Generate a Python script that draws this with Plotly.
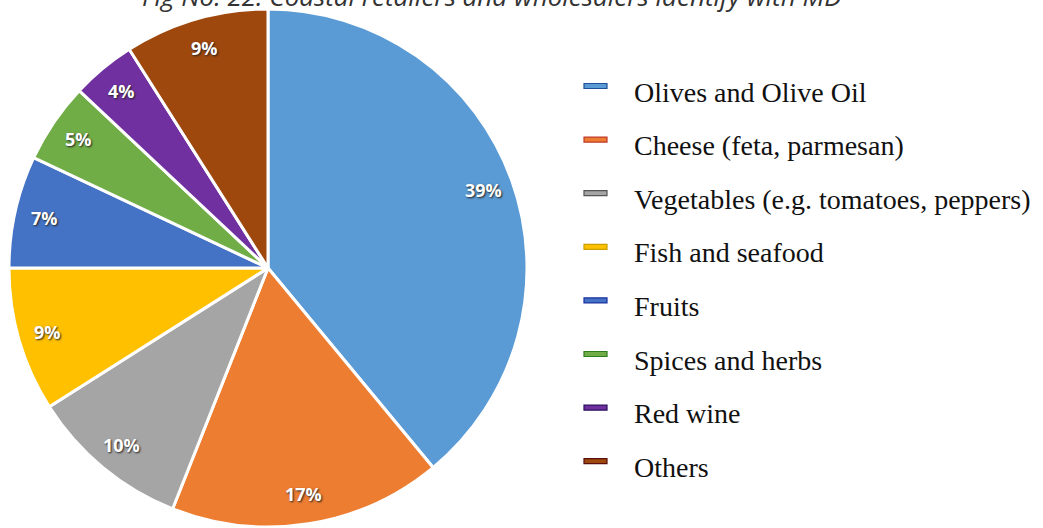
import numpy as np
import plotly.graph_objects as go

# Product categories and their shares (%)
categories = [
    "Olives and Olive Oil",
    "Cheese (feta, parmesan)",
    "Vegetables (e.g. tomatoes, peppers)",
    "Fish and seafood",
    "Fruits",
    "Spices and herbs",
    "Red wine",
    "Others",
]
shares = [39, 17, 10, 9, 7, 5, 4, 9]
colors = ["#5B9BD5", "#ED7D31", "#A5A5A5", "#FFC000",
          "#4472C4", "#70AD47", "#7030A0", "#9E480E"]
edge_colors = ["#1F4E9A", "#C0392B", "#555555", "#C9A000",
               "#1A2FA0", "#2E7D1F", "#2A0F5C", "#5A0F0F"]

title_text = "Fig No. 22: Coastal retailers and wholesalers identify with MD"

W, H = 1043, 528
cx, cy, R = 268, 268, 259  # pie centre / radius in pixels

fig = go.Figure()
fig.add_trace(go.Pie(
    labels=categories,
    values=shares,
    sort=False,
    direction="clockwise",
    rotation=0,
    marker=dict(colors=colors, line=dict(color="white", width=3)),
    textinfo="none",
    hoverinfo="label+percent",
    showlegend=False,
    domain=dict(x=[(cx - R) / W, (cx + R) / W],
                y=[1 - (cy + R) / H, 1 - (cy - R) / H]),
))

annotations = []
# percentage labels placed near the outer part of each slice
total = float(sum(shares))
cum = np.cumsum([0] + shares[:-1])
for v, c0 in zip(shares, cum):
    ang = np.deg2rad((c0 + v / 2) / total * 360.0)
    rr = 0.885 * R
    px = cx + rr * np.sin(ang)
    py = cy - rr * np.cos(ang)
    annotations.append(dict(
        x=px / W, y=1 - py / H, xref="paper", yref="paper",
        text=f"<b>{v}%</b>", showarrow=False,
        font=dict(family="Open Sans", size=18, color="white",
                  shadow="1px 1px 2px #222"),
        xanchor="center", yanchor="middle",
    ))

# legend drawn as markers plus serif text
shapes = []
row0, step = 92, 53.6
for i, (name, col, ec) in enumerate(zip(categories, colors, edge_colors)):
    yc = row0 + i * step
    my = yc - 6
    shapes.append(dict(
        type="rect", xref="paper", yref="paper",
        x0=584 / W, x1=607 / W, y0=1 - (my + 2.5) / H, y1=1 - (my - 2.5) / H,
        fillcolor=col, line=dict(color=ec, width=1.2),
    ))
    annotations.append(dict(
        x=632 / W, y=1 - yc / H, xref="paper", yref="paper",
        text=name, showarrow=False, xanchor="left", yanchor="middle",
        font=dict(family="Liberation Serif", size=28, color="#111111"),
    ))

# title, partly running off the top edge
annotations.append(dict(
    x=492 / W, y=1 - 16 / H, xref="paper", yref="paper",
    text=f"<i>{title_text}</i>", showarrow=False,
    xanchor="center", yanchor="bottom",
    font=dict(family="Open Sans", size=26, color="#333333"),
))

fig.update_layout(
    width=W, height=H,
    margin=dict(l=0, r=0, t=0, b=0),
    paper_bgcolor="white", plot_bgcolor="white",
    annotations=annotations, shapes=shapes,
)

fig.write_html("out.html")
